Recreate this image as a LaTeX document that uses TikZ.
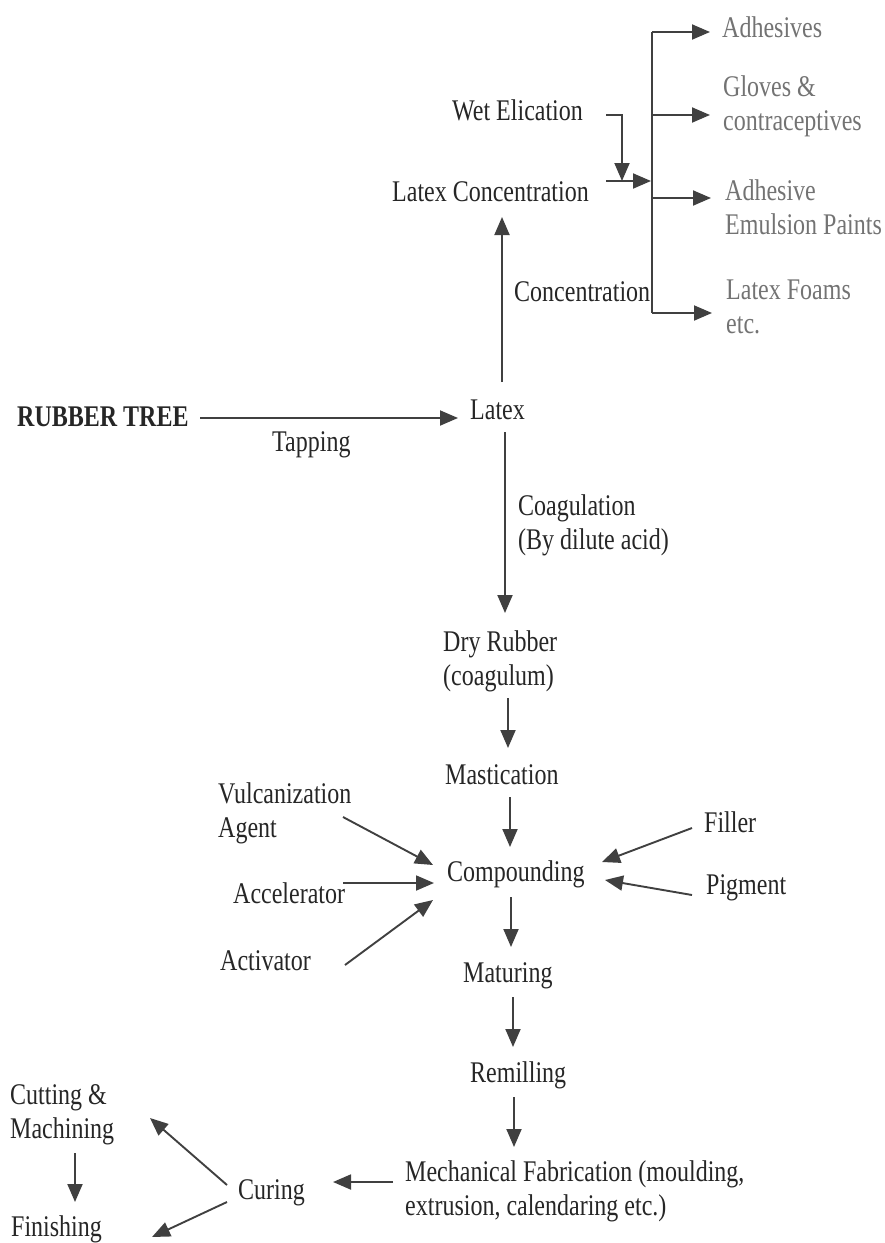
\documentclass[tikz,border=0pt]{standalone}
\usepackage{fontspec}
\setmainfont{Liberation Serif}[FakeStretch=0.80]
\usetikzlibrary{arrows.meta}
\tikzset{
  lbl/.style={inner sep=0pt, anchor=west, align=left, text=black!85, font=\fontsize{30}{34}\selectfont},
  outlbl/.style={lbl, text=black!55},
  arr/.style={draw=black!75, line width=1.9pt, -{Triangle[length=18pt,width=15pt]}},
  ln/.style={draw=black!75, line width=1.4pt},
}
\begin{document}
\begin{tikzpicture}[x=1pt,y=-1pt]
\useasboundingbox (0,0) rectangle (885,1243);
% nodes
\node[lbl, font=\fontsize{30}{34}\selectfont\bfseries] (rt) at (17,417) {RUBBER TREE};
\node[lbl] (latex) at (470,410) {Latex};
\node[lbl] (tap) at (272,445) {Tapping};
\node[lbl] (lc) at (392,192) {Latex Concentration};
\node[lbl] (wet) at (452,110) {Wet Elication};
\node[lbl] (conc) at (514,292) {Concentration};
\node[outlbl] (adh) at (722,27) {Adhesives};
\node[outlbl] (glov) at (723,106) {Gloves \&\\contraceptives};
\node[outlbl] (aep) at (725,207) {Adhesive\\Emulsion Paints};
\node[outlbl] (lf) at (726,307) {Latex Foams\\etc.};
\node[lbl] (coag) at (518,525) {Coagulation\\(By dilute acid)};
\node[lbl] (dry) at (443,661) {Dry Rubber\\(coagulum)};
\node[lbl] (mast) at (445,775) {Mastication};
\node[lbl] (comp) at (447,874) {Compounding};
\node[lbl] (mat) at (463,976) {Maturing};
\node[lbl] (rem) at (470,1075) {Remilling};
\node[lbl] (mech) at (405,1191) {Mechanical Fabrication (moulding,\\extrusion, calendaring etc.)};
\node[lbl] (cur) at (238,1193) {Curing};
\node[lbl] (cut) at (10,1115) {Cutting \&\\Machining};
\node[lbl] (fin) at (11,1229) {Finishing};
\node[lbl] (vulc) at (218,813) {Vulcanization\\Agent};
\node[lbl] (acc) at (233,893) {Accelerator};
\node[lbl] (act) at (220,961) {Activator};
\node[lbl] (fill) at (704,822) {Filler};
\node[lbl] (pig) at (706,888) {Pigment};
% coordinates
\coordinate (bt) at (652,32);
\coordinate (bb) at (652,313);
\coordinate (wa) at (606,115);
\coordinate (wb) at (622,115);
\coordinate (wc) at (622,181);
\coordinate (la) at (606,181);
\coordinate (lb) at (651,181);
% top branch
\draw[ln] (bt) -- (bb);
\draw[arr] (bt) -- ++(58,0);
\draw[arr] (652,115) -- ++(58,0);
\draw[arr] (652,198) -- ++(59,0);
\draw[arr] (bb) -- ++(60,0);
\draw[arr] (wa) -- (wb) -- (wc);
\draw[arr] (la) -- (lb);
% main flow
\draw[arr] (502,382) -- (502,217);
\draw[arr] (200,418) -- (458,418);
\draw[arr] (505,432) -- (505,613);
\draw[arr] (508,698) -- (508,748);
\draw[arr] (510,797) -- (510,847);
\draw[arr] (511,897) -- (511,947);
\draw[arr] (513,997) -- (513,1047);
\draw[arr] (514,1097) -- (514,1147);
\draw[arr] (393,1182) -- (333,1182);
\draw[arr] (227,1185) -- (150,1118);
\draw[arr] (227,1202) -- (152,1237);
\draw[arr] (75,1153) -- (75,1202);
% compounding inputs
\draw[arr] (343,817) -- (433,865);
\draw[arr] (343,883) -- (434,883);
\draw[arr] (345,965) -- (433,900);
\draw[arr] (692,828) -- (602,862);
\draw[arr] (692,895) -- (605,880);
\end{tikzpicture}
\end{document}
